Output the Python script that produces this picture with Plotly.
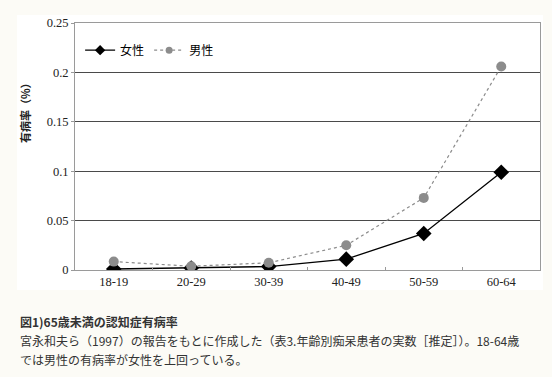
import plotly.graph_objects as go

categories = ["18-19", "20-29", "30-39", "40-49", "50-59", "60-64"]
female = [0.001, 0.002, 0.0035, 0.011, 0.037, 0.099]
male = [0.0085, 0.0038, 0.0073, 0.025, 0.073, 0.206]
y_ticks = [0, 0.05, 0.1, 0.15, 0.2, 0.25]
y_tick_labels = ["0", "0.05", "0.1", "0.15", "0.2", "0.25"]

serif = "Liberation Serif, Times New Roman, serif"
sans = "Noto Sans CJK JP"
bg = "#fcfbf6"

fig = go.Figure()
fig.add_trace(go.Scatter(
    x=categories, y=female, name="女性", mode="lines+markers", showlegend=False,
    line=dict(color="#000000", width=1.3),
    marker=dict(symbol="diamond", size=12, color="#000000"),
))
fig.add_trace(go.Scatter(
    x=categories, y=male, name="男性", mode="lines+markers", showlegend=False,
    line=dict(color="#8c8c8c", width=1.2, dash="dot"),
    marker=dict(symbol="circle", size=10, color="#8c8c8c"),
))
# legend entries with smaller symbols, as in the reference
fig.add_trace(go.Scatter(
    x=[None], y=[None], name="女性", mode="lines+markers",
    line=dict(color="#000000", width=1.3),
    marker=dict(symbol="diamond", size=8, color="#000000"),
))
fig.add_trace(go.Scatter(
    x=[None], y=[None], name="男性", mode="lines+markers",
    line=dict(color="#8c8c8c", width=1.2, dash="dot"),
    marker=dict(symbol="circle", size=7, color="#8c8c8c"),
))

fig.update_layout(
    width=552, height=377,
    margin=dict(l=75, r=12, t=23, b=107),
    paper_bgcolor=bg,
    plot_bgcolor="#ffffff",
    showlegend=True,
    legend=dict(orientation="h", x=0.011, y=0.89, xanchor="left", yanchor="middle",
                bgcolor="rgba(0,0,0,0)", font=dict(family=sans, size=12, color="#000"),
                tracegroupgap=0),
    xaxis=dict(
        type="category", showgrid=False, showline=True, linecolor="#9a9a9a", linewidth=1,
        mirror=True, ticks="inside", tickson="boundaries", ticklen=3, tickcolor="#9a9a9a",
        tickfont=dict(family=serif, size=12.5, color="#222"), range=[-0.5, 5.5],
    ),
    yaxis=dict(
        range=[0, 0.25], tickvals=y_ticks, ticktext=y_tick_labels,
        showgrid=True, gridcolor="#4a4a4a", gridwidth=1,
        showline=True, linecolor="#9a9a9a", linewidth=1, mirror=True,
        ticks="outside", ticklen=3, tickcolor="#9a9a9a",
        tickfont=dict(family=serif, size=12.5, color="#222"), zeroline=False,
    ),
    shapes=[dict(type="rect", xref="paper", yref="paper",
                 x0=-58/465, x1=(543-75)/465, y0=(270-290)/247, y1=(270-15)/247,
                 fillcolor="#ffffff", line=dict(width=0), layer="below")],
    annotations=[
        dict(text="<b>有病率（%）</b>", xref="paper", yref="paper", x=-50/465, y=(270-110)/247,
             xanchor="center", yanchor="middle", textangle=-90, showarrow=False,
             font=dict(family=sans, size=11, color="#222")),
        dict(text="<b>図1)65歳未満の認知症有病率</b>", xref="paper", yref="paper",
             x=-57/465, y=(270-321)/247, xanchor="left", yanchor="middle", showarrow=False,
             font=dict(family=sans, size=12, color="#333")),
        dict(text="宮永和夫ら（1997）の報告をもとに作成した（表3.年齢別痴呆患者の実数［推定］）。18-64歳",
             xref="paper", yref="paper",
             x=-57/465, y=(270-340)/247, xanchor="left", yanchor="middle", showarrow=False,
             font=dict(family=sans, size=12, color="#333")),
        dict(text="では男性の有病率が女性を上回っている。", xref="paper", yref="paper",
             x=-57/465, y=(270-359)/247, xanchor="left", yanchor="middle", showarrow=False,
             font=dict(family=sans, size=12, color="#333")),
    ],
)

fig.write_html(
    "out.html",
    config={"displayModeBar": False},
    post_script="document.body.style.margin='0';document.body.style.background='%s';" % bg,
)
